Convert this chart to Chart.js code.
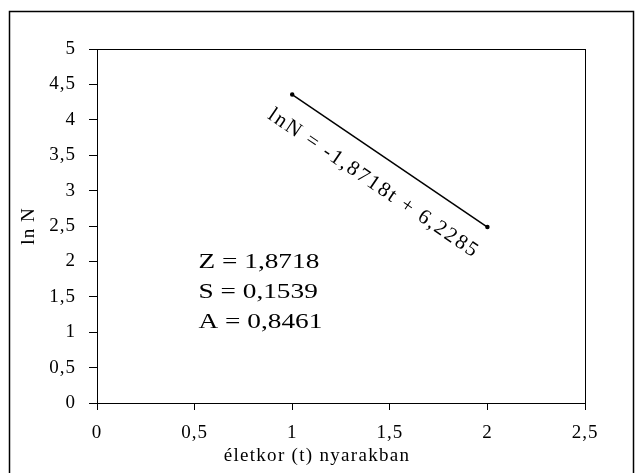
<!DOCTYPE html>
<html>
<head>
<meta charset="utf-8">
<script src="https://cdn.jsdelivr.net/npm/chart.js@4"></script>
<style>
    html, body { margin: 0; padding: 0; background: #fff; }
    #wrap { width: 635px; height: 473px; position: relative; }
</style>
</head>
<body>
<div id="wrap"><canvas id="chart"></canvas></div>
<script>
// regression line ln N = -1,8718 t + 6,2285, drawn from t = 1 to t = 2
const tValues = [1, 2];
const lnNValues = [4.3567, 2.4849];

// axis ticks
const xTicks = [0, 0.5, 1, 1.5, 2, 2.5];
const yTicks = [0, 0.5, 1, 1.5, 2, 2.5, 3, 3.5, 4, 4.5, 5];

// text in the plot (anchor in data units)
const equationText = 'lnN = -1,8718t + 6,2285';
const equationAnchor = [1.417, 3.1];
const statLines = ['Z = 1,8718', 'S = 0,1539', 'A = 0,8461'];
const statAnchors = [[0.52, 1.98], [0.52, 1.56], [0.52, 1.14]];
const xTitle = 'életkor (t) nyarakban';

const serif = '"Liberation Serif", "Times New Roman", serif';
const fmt = (v) => String(v).replace('.', ',');

const ctx = document.getElementById('chart').getContext('2d');

// the reference text is a bit wider than plain Times, so space the letters a little
const spacing = {
    id: 'spacing',
    beforeLayout(chart) { chart.ctx.letterSpacing = '1px'; },
    beforeDraw(chart) { chart.ctx.letterSpacing = '1px'; }
};

const frames = {
    id: 'frames',
    beforeDraw(chart) {
        const c = chart.ctx;
        c.save();
        c.strokeStyle = '#000';
        c.lineWidth = 1.5;
        c.strokeRect(9.5, 11.5, 624, 470);
        c.restore();
    },
    afterDraw(chart) {
        const c = chart.ctx;
        const a = chart.chartArea;
        const xs = chart.scales.x, ys = chart.scales.y;
        c.save();
        c.strokeStyle = '#000';
        c.lineWidth = 1;
        c.strokeRect(Math.round(a.left) + 0.5, Math.round(a.top) + 0.5,
            Math.round(a.right - a.left), Math.round(a.bottom - a.top));

        c.fillStyle = '#000';
        c.textBaseline = 'middle';

        // x axis title sits a little left of the plot centre in the original
        c.font = '19px ' + serif;
        c.letterSpacing = '1.3px';
        c.textAlign = 'center';
        c.fillText(xTitle, 317, 456);

        c.font = '21px ' + serif;
        c.letterSpacing = '0px';
        c.textAlign = 'left';
        statLines.forEach((s, i) => {
            const px = xs.getPixelForValue(statAnchors[i][0]);
            const py = ys.getPixelForValue(statAnchors[i][1]);
            c.save();
            c.translate(px, py);
            c.scale(1.3, 1);
            c.fillText(s, 0, 0);
            c.restore();
        });

        const x0 = xs.getPixelForValue(tValues[0]), y0 = ys.getPixelForValue(lnNValues[0]);
        const x1 = xs.getPixelForValue(tValues[1]), y1 = ys.getPixelForValue(lnNValues[1]);
        const ang = Math.atan2(y1 - y0, x1 - x0);
        c.translate(xs.getPixelForValue(equationAnchor[0]), ys.getPixelForValue(equationAnchor[1]));
        c.rotate(ang);
        c.textAlign = 'center';
        c.font = '21px ' + serif;
        c.letterSpacing = '2px';
        c.fillText(equationText, 0, 0);
        c.restore();
    }
};

new Chart(ctx, {
    type: 'scatter',
    data: {
        datasets: [{
            data: tValues.map((t, i) => ({ x: t, y: lnNValues[i] })),
            showLine: true,
            borderColor: '#000',
            backgroundColor: '#000',
            borderWidth: 1.5,
            pointRadius: 1.5,
            pointHoverRadius: 1.5,
        }],
    },
    options: {
        responsive: true,
        maintainAspectRatio: false,
        animation: false,
        events: [],
        layout: { padding: { left: 0, top: 49, right: 50, bottom: 0 } },
        plugins: { legend: { display: false }, tooltip: { enabled: false } },
        scales: {
            x: {
                type: 'linear',
                min: 0,
                max: 2.5,
                afterBuildTicks: (s) => { s.ticks = xTicks.map((v) => ({ value: v })); },
                afterFit: (s) => { s.height = 70; },
                border: { display: true, color: '#000', width: 1 },
                grid: { drawOnChartArea: false, drawTicks: true, tickLength: 7, color: '#000' },
                ticks: {
                    color: '#000',
                    padding: 12,
                    maxRotation: 0,
                    font: { family: serif, size: 19 },
                    callback: (v) => fmt(v),
                },
                title: { display: false },
            },
            y: {
                type: 'linear',
                min: 0,
                max: 5,
                afterBuildTicks: (s) => { s.ticks = yTicks.map((v) => ({ value: v })); },
                afterFit: (s) => { s.width = 97; },
                border: { display: true, color: '#000', width: 1 },
                grid: { drawOnChartArea: false, drawTicks: true, tickLength: 8, color: '#000' },
                ticks: {
                    color: '#000',
                    padding: 13,
                    font: { family: serif, size: 19 },
                    callback: (v) => fmt(v),
                },
                title: {
                    display: true,
                    text: 'ln N',
                    color: '#000',
                    font: { family: serif, size: 19 },
                    padding: { top: 18, bottom: 0 },
                },
            },
        },
    },
    plugins: [spacing, frames],
});
</script>
</body>
</html>
